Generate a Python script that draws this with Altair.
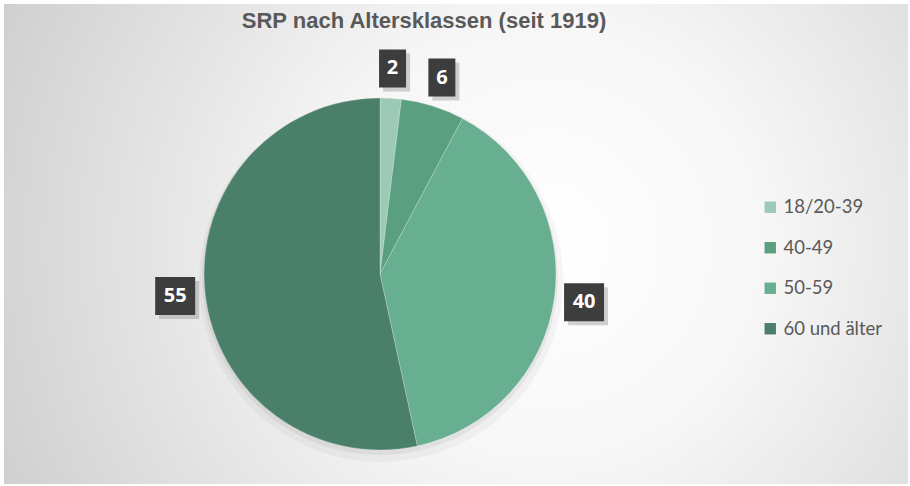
import altair as alt
import pandas as pd

categories = ["18/20-39", "40-49", "50-59", "60 und älter"]
values = [2, 6, 40, 55]
labels = ["2", "6", "40", "55"]
colors = ["#9ccab6", "#5a9f80", "#68ae90", "#4a7f69"]
title_text = ["SRP nach Altersklassen (seit 1919)"]

df = pd.DataFrame({
    "Altersklasse": categories,
    "Wert": values,
    "Label": labels,
    "Ordnung": list(range(len(categories))),
})

W, H = 910, 486
CX, CY = 380, 274
R = 176
LR = 206

color_scale = alt.Scale(domain=categories, range=colors)

base = alt.Chart(df)

bg = alt.Chart(pd.DataFrame({"a": [0]})).mark_rect(
    color=alt.Gradient(
        gradient="radial",
        stops=[
            alt.GradientStop(color="#ffffff", offset=0),
            alt.GradientStop(color="#f7f7f7", offset=0.3),
            alt.GradientStop(color="#c2c2c2", offset=1),
        ],
        x1=0.6, y1=0.5, r1=0, x2=0.6, y2=0.5, r2=0.8,
    )
).encode(
    x=alt.value(4), x2=alt.value(W - 2),
    y=alt.value(4), y2=alt.value(H - 2),
)

title = alt.Chart(pd.DataFrame({"t": title_text})).mark_text(
    fontSize=22, fontWeight="bold", font="Arial",
    color="#595959", align="center", baseline="middle",
).encode(
    x=alt.value(424), y=alt.value(21), text="t:N",
)

shadow1 = base.mark_arc(radius=R + 6, color="#000000", opacity=0.035).encode(
    theta=alt.Theta("Wert:Q", stack=True),
    order=alt.Order("Ordnung:O"),
    x=alt.value(CX + 1), y=alt.value(CY + 6),
)
shadow2 = base.mark_arc(radius=R + 2, color="#000000", opacity=0.05).encode(
    theta=alt.Theta("Wert:Q", stack=True),
    order=alt.Order("Ordnung:O"),
    x=alt.value(CX), y=alt.value(CY + 3),
)

pie = base.mark_arc(radius=R, stroke="#ffffff", strokeWidth=0.4, strokeOpacity=0.6).encode(
    theta=alt.Theta("Wert:Q", stack=True),
    order=alt.Order("Ordnung:O"),
    color=alt.Color(
        "Altersklasse:N",
        scale=color_scale,
        sort=categories,
        legend=alt.Legend(
            title=None,
            orient="none",
            legendX=761,
            legendY=198,
            symbolType="square",
            symbolSize=130,
            symbolStrokeWidth=0,
            labelFontSize=18.5,
            labelFont="Lato",
            labelColor="#595959",
            labelOffset=4,
            rowPadding=21.5,
            padding=0,
        ),
    ),
    x=alt.value(CX), y=alt.value(CY),
)

lab = base.transform_joinaggregate(
    total="sum(Wert)"
).transform_window(
    cum="sum(Wert)", sort=[alt.SortField("Ordnung")], frame=[None, 0]
).transform_calculate(
    ang="(datum.cum - datum.Wert / 2) / datum.total * 2 * PI",
).transform_calculate(
    px=f"{CX} + {LR} * sin(datum.ang)",
    py=f"{CY} - {LR} * cos(datum.ang)",
    hw="7 + 6.5 * length(datum.Label)",
).transform_calculate(
    bx1="datum.px - datum.hw",
    bx2="datum.px + datum.hw",
    by1="datum.py - 19",
    by2="datum.py + 19",
    sx1="datum.px - datum.hw + 4",
    sx2="datum.px + datum.hw + 4",
    sy1="datum.py - 19 + 4",
    sy2="datum.py + 19 + 4",
)

box_shadow = lab.mark_rect(color="#7f7f7f", opacity=0.35).encode(
    x=alt.X("sx1:Q", scale=None, axis=None), x2="sx2:Q",
    y=alt.Y("sy1:Q", scale=None, axis=None), y2="sy2:Q",
)
box = lab.mark_rect(color="#3d3d3d").encode(
    x=alt.X("bx1:Q", scale=None, axis=None), x2="bx2:Q",
    y=alt.Y("by1:Q", scale=None, axis=None), y2="by2:Q",
)
txt = lab.mark_text(
    color="#ffffff", fontSize=20, fontWeight="bold", font="Open Sans",
    align="center", baseline="middle",
).encode(
    x=alt.X("px:Q", scale=None, axis=None),
    y=alt.Y("py:Q", scale=None, axis=None),
    text="Label:N",
)

chart = alt.layer(bg, title, shadow1, shadow2, pie, box_shadow, box, txt).properties(
    width=W,
    height=H,
    padding=0,
    autosize=alt.AutoSizeParams(type="none"),
    background="#ffffff",
).configure_view(stroke=None)

chart.save("out.html", embed_options={"renderer": "svg", "actions": False})
